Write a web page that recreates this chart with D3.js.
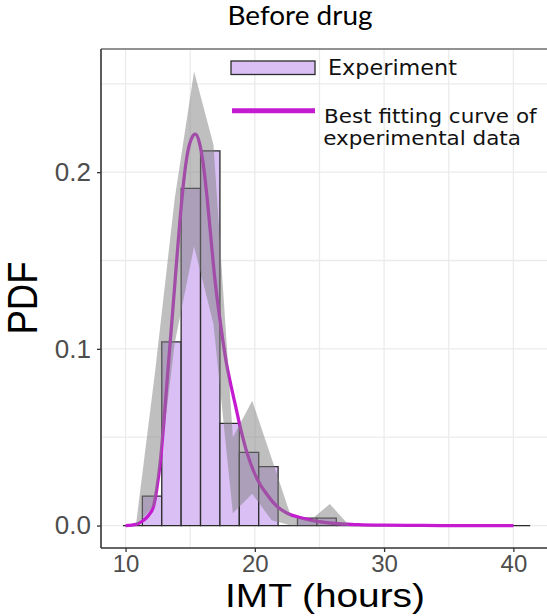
<!DOCTYPE html>
<html><head><meta charset="utf-8">
<script src="https://cdn.jsdelivr.net/npm/d3@7"></script>
<style>body{margin:0;background:#fff}</style>
</head><body>
<svg id="chart" width="547" height="616"></svg>
<script>
// ---------- data ----------
const binEdges = [9.8, 11.3, 12.8, 14.3, 15.8, 17.3, 18.8, 20.3, 21.8, 23.3, 24.8, 26.3,
                  27.8, 29.3, 30.8, 32.3, 33.8, 35.3, 36.8, 38.3, 39.8, 41.3];
const binDensity = [0, 0.0167, 0.104, 0.1908, 0.212, 0.0578, 0.0414, 0.0333, 0, 0.0042, 0.0042,
                    0, 0, 0, 0, 0, 0, 0, 0, 0, 0];

const ribbonX     = [10.8, 12.3, 13.8, 15.3, 16.8, 18.3, 19.8, 21.3, 22.8, 24.3, 25.8, 27.3];
const ribbonUpper = [0, 0.088, 0.185, 0.257, 0.2155, 0.05, 0.0706, 0.038, 0.005, 0.003, 0.0122, 0];
const ribbonLower = [0, 0.012, 0.103, 0.158, 0.114, 0.007, 0.018, 0.003, 0, 0, 0, 0];

const fitX = [10, 10.5, 11, 11.4, 11.8, 12.15, 12.4, 12.7, 13.0, 13.3, 13.6, 13.9, 14.2, 14.5, 14.8,
              15.1, 15.4, 15.7, 16.0, 16.3, 16.6, 16.9, 17.2, 17.5, 17.8, 18.1, 18.5, 18.8, 19.4,
              20.2, 20.9, 21.75, 22.5, 23.5, 24.5, 26, 28, 30, 33, 36, 40];
const fitY = [0, 0.0003, 0.0012, 0.003, 0.006, 0.0106, 0.02, 0.037, 0.062, 0.09, 0.117, 0.145, 0.172,
              0.195, 0.211, 0.219, 0.2215, 0.217, 0.205, 0.186, 0.163, 0.14, 0.122, 0.106, 0.092,
              0.081, 0.068, 0.058, 0.041, 0.026, 0.018, 0.0106, 0.007, 0.0045, 0.0028, 0.0013,
              0.0005, 0.0002, 0.00005, 0, 0];

const xTicks = [10, 20, 30, 40];
const xGrid = [10, 15, 20, 25, 30, 35, 40];
const yTicks = [0, 0.1, 0.2];
const yGrid = [0, 0.05, 0.1, 0.15, 0.2, 0.25];

const titleText = "Before drug";
const xTitle = "IMT (hours)";
const yTitle = "PDF";
const legendLabels = ["Experiment", "Best fitting curve of", "experimental data"];

// ---------- layout ----------
const P = {left: 101, right: 547, top: 49, bottom: 548};
const x = d3.scaleLinear().domain([8.1, 42.6]).range([P.left, P.right]);
const y = d3.scaleLinear().domain([-0.0127, 0.2697]).range([P.bottom, P.top]);

const svg = d3.select("#chart");
const axisFont = "'Liberation Sans', Arial, Helvetica, sans-serif";

// grid
const grid = svg.append("g");
grid.selectAll("line.gx").data(xGrid).join("line")
  .attr("x1", d => x(d)).attr("x2", d => x(d)).attr("y1", P.top).attr("y2", P.bottom)
  .attr("stroke", "#EBEBEB").attr("stroke-width", 1.3);
grid.selectAll("line.gy").data(yGrid).join("line")
  .attr("x1", P.left).attr("x2", P.right).attr("y1", d => y(d)).attr("y2", d => y(d))
  .attr("stroke", "#EBEBEB").attr("stroke-width", 1.3);

// histogram bars (as paths so zero-height bins show as a line)
const bins = binDensity.map((v, i) => ({x0: binEdges[i], x1: binEdges[i + 1], v}));
svg.append("g").selectAll("path").data(bins).join("path")
  .attr("d", d => `M${x(d.x0)},${y(0)}V${y(d.v)}H${x(d.x1)}V${y(0)}Z`)
  .attr("fill", "#D9BFF4").attr("stroke", "#2b2b2b").attr("stroke-width", 1.3);

// fitted curve
const fitPts = fitX.map((v, i) => [v, fitY[i]]);
svg.append("path").datum(fitPts)
  .attr("d", d3.line().x(d => x(d[0])).y(d => y(d[1])).curve(d3.curveMonotoneX))
  .attr("fill", "none").attr("stroke", "#C41BD0").attr("stroke-width", 3.3);

// ribbon
const rib = ribbonX.map((v, i) => ({x: v, lo: ribbonLower[i], hi: ribbonUpper[i]}));
svg.append("path").datum(rib)
  .attr("d", d3.area().x(d => x(d.x)).y0(d => y(d.lo)).y1(d => y(d.hi)))
  .attr("fill", "#7F7F7F").attr("fill-opacity", 0.5);

// panel top border
svg.append("line").attr("x1", P.left).attr("x2", P.right).attr("y1", P.top).attr("y2", P.top)
  .attr("stroke", "#6e6e6e").attr("stroke-width", 1.6);

// axes
const xAxis = d3.axisBottom(x).tickValues(xTicks).tickSize(4).tickPadding(3).tickFormat(d3.format("d"));
const gx = svg.append("g").attr("transform", `translate(0,${P.bottom})`).call(xAxis);
gx.select(".domain").attr("stroke", "#333").attr("stroke-width", 1.6)
  .attr("d", `M${P.left},0H${P.right}`);
gx.selectAll(".tick line").attr("stroke", "#333").attr("stroke-width", 1.3);
gx.selectAll(".tick text").attr("fill", "#4D4D4D").style("font-family", axisFont).style("font-size", "24px");

const yAxis = d3.axisLeft(y).tickValues(yTicks).tickSize(4).tickPadding(6).tickFormat(d3.format(".1f"));
const gy = svg.append("g").attr("transform", `translate(${P.left},0)`).call(yAxis);
gy.select(".domain").attr("stroke", "#333").attr("stroke-width", 1.6)
  .attr("d", `M0,${P.top}V${P.bottom}`);
gy.selectAll(".tick line").attr("stroke", "#333").attr("stroke-width", 1.3);
gy.selectAll(".tick text").attr("fill", "#4D4D4D").style("font-family", axisFont).style("font-size", "26px");

// helper: place text scaled to a target width
function fitText(g, txt, opts) {
  const holder = g.append("g");
  const t = holder.append("text").text(txt)
    .attr("font-family", opts.font).attr("font-size", opts.size)
    .attr("fill", opts.fill || "#000").attr("text-anchor", opts.anchor || "start");
  const w = t.node().getComputedTextLength();
  const sx = opts.width ? opts.width / w : 1;
  const sy = opts.sy || 1;
  holder.attr("transform", `translate(${opts.x},${opts.y}) rotate(${opts.rotate || 0}) scale(${sx},${sy})`);
  return t;
}

// titles
fitText(svg, titleText, {font: "Lato, 'Open Sans', sans-serif", size: 25, x: 300, y: 25, anchor: "middle", width: 145, sy: 1.04});
fitText(svg, xTitle, {font: axisFont, size: 33, x: 325, y: 607, anchor: "middle", width: 200, sy: 1.03});
fitText(svg, yTitle, {font: axisFont, size: 37, x: 37, y: 298, anchor: "middle", width: 73, rotate: -90, sy: 1.13});

// legend
const lg = svg.append("g");
lg.append("rect").attr("x", 231).attr("y", 61).attr("width", 84).attr("height", 13.5)
  .attr("fill", "#D9BFF4").attr("stroke", "#2b2b2b").attr("stroke-width", 1.3);
lg.append("line").attr("x1", 232).attr("x2", 315).attr("y1", 110.7).attr("y2", 110.7)
  .attr("stroke", "#C41BD0").attr("stroke-width", 5);
const legFont = "'DejaVu Sans', Verdana, sans-serif";
fitText(lg, legendLabels[0], {font: legFont, size: 22, x: 328, y: 75, width: 129, fill: "#111"});

// two-line legend label as one wrapped text element
const lg2 = lg.append("g");
const wrapped = lg2.append("text").attr("font-family", legFont).attr("font-size", 19.5).attr("fill", "#111");
const l1 = wrapped.append("tspan").attr("x", 0).attr("y", 0).text(legendLabels[1]);
wrapped.append("tspan").attr("x", -0.8).attr("y", 22.7).text(legendLabels[2]);
const w1 = l1.node().getComputedTextLength();
lg2.attr("transform", `translate(324,122.5) scale(${212.7 / w1},1)`);
</script>
</body></html>
